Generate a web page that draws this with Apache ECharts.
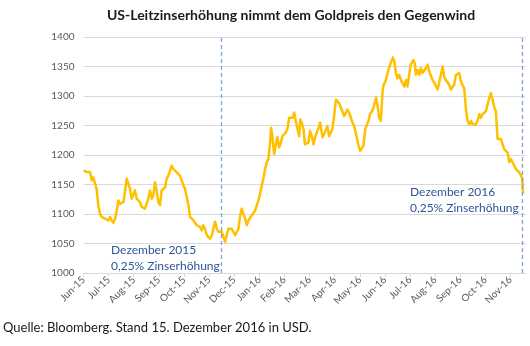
<!DOCTYPE html>
<html>
<head>
<meta charset="utf-8">
<script src="https://cdn.jsdelivr.net/npm/echarts@6/dist/echarts.min.js"></script>
<style>html,body{margin:0;padding:0;background:#fff}#c{width:530px;height:346px}</style>
</head>
<body>
<div id="c"></div>
<script>
// x = months since 1 July 2015, y = gold price in USD
var monthLabels = ['Jun-15','Jul-15','Aug-15','Sep-15','Oct-15','Nov-15','Dec-15','Jan-16','Feb-16','Mar-16','Apr-16','May-16','Jun-16','Jul-16','Aug-16','Sep-16','Oct-16','Nov-16'];
var yTicks = [1000,1050,1100,1150,1200,1250,1300,1350,1400];
var rateHikes = [5.5, 17.47];
var goldPrice = [
[0.00,1174],[0.06,1172],[0.13,1171],[0.19,1168],[0.26,1171],[0.33,1157],[0.39,1162],[0.46,1160],[0.52,1143],[0.59,1115],[0.66,1100],[0.72,1095],[0.79,1098],[0.86,1092],[0.92,1095],[0.99,1089],[1.06,1095],[1.12,1089],[1.19,1085],[1.26,1092],[1.32,1106],[1.39,1123],[1.45,1117],[1.52,1117],[1.59,1120],[1.65,1137],[1.72,1160],[1.79,1157],[1.85,1143],[1.92,1126],[1.99,1134],[2.05,1140],[2.12,1126],[2.18,1123],[2.25,1120],[2.32,1112],[2.38,1109],[2.45,1109],[2.52,1106],[2.58,1126],[2.65,1140],[2.72,1126],[2.78,1131],[2.85,1154],[2.92,1137],[2.98,1120],[3.05,1115],[3.11,1140],[3.18,1140],[3.25,1145],[3.31,1160],[3.38,1165],[3.45,1174],[3.51,1182],[3.58,1176],[3.65,1174],[3.71,1171],[3.78,1168],[3.84,1165],[3.91,1157],[3.98,1148],[4.04,1143],[4.11,1129],[4.18,1115],[4.24,1095],[4.31,1092],[4.38,1089],[4.44,1087],[4.51,1081],[4.57,1083],[4.64,1078],[4.71,1072],[4.77,1081],[4.84,1075],[4.91,1064],[4.97,1064],[5.04,1058],[5.11,1064],[5.17,1075],[5.24,1087],[5.31,1075],[5.37,1070],[5.44,1072],[5.50,1070],[5.57,1067],[5.64,1053],[5.70,1064],[5.77,1075],[5.84,1078],[5.90,1075],[5.97,1072],[6.04,1064],[6.10,1061],[6.17,1075],[6.24,1098],[6.30,1109],[6.37,1100],[6.44,1092],[6.50,1081],[6.57,1089],[6.64,1092],[6.70,1098],[6.77,1095],[6.84,1106],[6.90,1115],[6.97,1123],[7.03,1126],
[7.17,1162],[7.23,1176],[7.30,1188],[7.36,1193],[7.43,1221],[7.47,1246],[7.52,1232],[7.59,1202],[7.66,1218],[7.72,1230],[7.79,1213],[7.86,1221],[7.92,1232],[7.99,1230],[8.05,1238],[8.12,1244],[8.19,1263],[8.25,1266],[8.32,1263],[8.39,1272],[8.45,1258],[8.52,1244],[8.59,1232],[8.63,1260],[8.69,1255],[8.76,1244],[8.82,1218],[8.89,1216],[8.96,1221],[9.02,1241],[9.09,1232],[9.16,1218],[9.22,1230],[9.29,1238],[9.36,1246],[9.42,1255],[9.46,1258],[9.52,1230],[9.58,1235],[9.65,1232],[9.71,1249],[9.78,1232],[9.85,1235],[9.91,1244],[9.98,1266],[10.05,1294],[10.11,1291],[10.18,1288],[10.25,1280],[10.31,1283],[10.38,1266],[10.44,1263],[10.51,1277],[10.58,1272],[10.64,1274],[10.71,1255],[10.78,1249],[10.84,1246],[10.88,1230],[10.95,1216],[11.02,1207],[11.08,1210],[11.15,1216],[11.22,1244],[11.28,1245],[11.35,1258],[11.41,1269],[11.48,1274],[11.55,1280],[11.61,1291],[11.65,1297],[11.71,1283],[11.77,1263],[11.84,1258],[11.91,1308],[11.95,1319],[12.01,1323],[12.08,1322],[12.12,1341],[12.19,1350],[12.25,1358],[12.32,1365],[12.38,1358],[12.44,1339],[12.50,1330],[12.57,1336],[12.64,1327],[12.70,1325],[12.77,1316],[12.84,1327],[12.90,1316],[12.97,1336],[13.03,1353],[13.10,1353],[13.14,1361],[13.19,1355],[13.23,1336],[13.30,1344],[13.37,1336],[13.43,1347],[13.50,1339],[13.57,1339],[13.63,1347],[13.70,1353],[13.77,1341],[13.83,1339],[13.90,1327],[13.96,1323],[14.03,1325],[14.10,1311],[14.16,1322],[14.23,1323],[14.30,1350],[14.36,1333],[14.43,1327],[14.50,1327],[14.56,1319],[14.63,1311],[14.69,1313],[14.76,1319],[14.83,1336],[14.89,1339],[14.96,1339],[15.03,1325],[15.09,1319],[15.16,1313],[15.23,1277],[15.29,1258],[15.36,1252],[15.43,1258],[15.49,1252],[15.56,1255],[15.62,1252],[15.69,1258],[15.76,1269],[15.82,1263],[15.89,1269],[15.96,1272],[16.02,1274],[16.09,1277],[16.16,1297],[16.22,1305],[16.29,1294],[16.36,1280],[16.42,1274],[16.49,1227],[16.55,1224],[16.62,1227],[16.69,1218],[16.75,1210],[16.82,1213],[16.89,1204],[16.95,1188],[17.02,1193],[17.09,1196],[17.15,1182],[17.22,1176],[17.28,1174],[17.35,1171],[17.42,1165],[17.47,1160],[17.50,1135]
];
var titleText = 'US-Leitzinserhöhung nimmt dem Goldpreis den Gegenwind';
var sourceText = 'Quelle: Bloomberg. Stand 15. Dezember 2016 in USD.';
var noteLeft = ['Dezember 2015', '0,25% Zinserhöhung'];
var noteRight = ['Dezember 2016', '0,25% Zinserhöhung'];

var FONT = 'Lato, "Open Sans", sans-serif';
var chart = echarts.init(document.getElementById('c'), null, {renderer: 'canvas'});
function txt(x, y, s, size, weight, color, align) {
  return {type: 'text', x: x, y: y, silent: true,
    style: {text: s, fontFamily: FONT, fontSize: size, fontWeight: weight, fill: color,
      align: align || 'left', verticalAlign: 'middle'}};
}
chart.setOption({
  animation: false,
  backgroundColor: '#fff',
  grid: {left: 83.5, right: 4.5, top: 37, bottom: 73, containLabel: false},
  xAxis: {
    type: 'value', min: 0, max: 17.6, interval: 1,
    axisLine: {show: true, lineStyle: {color: '#D9D9D9', width: 1}},
    axisTick: {show: true, length: 4, lineStyle: {color: '#D9D9D9'}},
    splitLine: {show: false},
    axisLabel: {
      rotate: 45, margin: 5, color: '#595959', fontFamily: FONT, fontSize: 10,
      showMaxLabel: false,
      formatter: function (v) { var i = Math.round(v); return monthLabels[i] || ''; }
    }
  },
  yAxis: {
    type: 'value', min: yTicks[0], max: yTicks[yTicks.length - 1], interval: 50,
    axisLine: {show: false}, axisTick: {show: false},
    splitLine: {lineStyle: {color: '#D9D9D9', width: 1}},
    axisLabel: {color: '#595959', fontFamily: FONT, fontSize: 10, margin: 9,
      formatter: function (v) { return String(v); }}
  },
  series: [{
    type: 'line', data: goldPrice, showSymbol: false, symbol: 'none',
    lineStyle: {color: '#FFC000', width: 2.5, join: 'round'},
    markLine: {
      silent: true, symbol: ['none', 'none'],
      label: {show: false},
      lineStyle: {color: '#7FA3DD', type: [4, 3], width: 1.3},
      data: rateHikes.map(function (d) { return {xAxis: d}; })
    }
  }],
  graphic: [
    txt(291, 15, titleText, 14, 'bold', '#1a1a1a', 'center'),
    txt(111, 250, noteLeft[0], 12, 'normal', '#2F5597'),
    txt(111, 266, noteLeft[1], 12, 'normal', '#2F5597'),
    txt(410, 192, noteRight[0], 12, 'normal', '#2F5597'),
    txt(410, 208, noteRight[1], 12, 'normal', '#2F5597'),
    txt(3, 328, sourceText, 13, 'normal', '#1a1a1a')
  ]
});
</script>
</body>
</html>
